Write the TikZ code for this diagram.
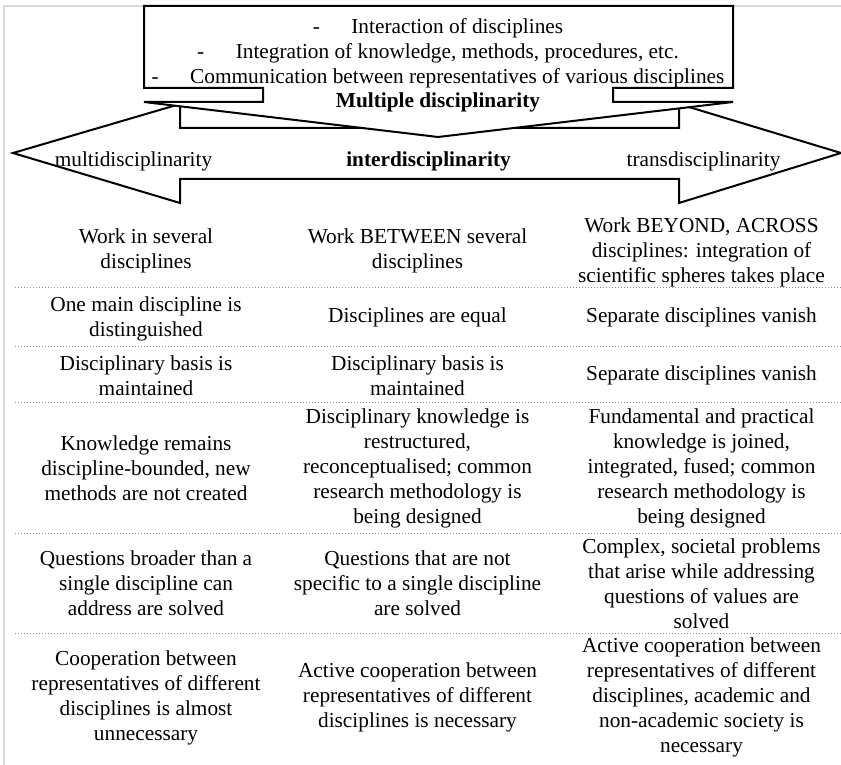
\documentclass[tikz,border=0pt]{standalone}
\usepackage{fontspec}
\setmainfont{Liberation Serif}
\begin{document}
\begin{tikzpicture}[x=1pt,y=-1pt,
  shapeline/.style={draw=black,line width=2pt,fill=white,line join=miter},
  txt/.style={font=\fontsize{21.3}{25}\selectfont,inner sep=0pt,align=center},
  btxt/.style={font=\fontsize{21.3}{25}\selectfont\bfseries,inner sep=0pt},
  sepline/.style={draw=black!45,line width=1pt,dash pattern=on 1pt off 2pt},
  framegray/.style={draw=black!15,line width=2pt}]
\useasboundingbox (0,0) rectangle (841,765);
% light frame
\draw[framegray] (4,765) -- (4,6) -- (841,6);
% left-right arrow
\draw[shapeline] (13,153) -- (180,104) -- (180,128) -- (679,128) -- (679,104)
  -- (841,153) -- (679,203) -- (679,179) -- (180,179) -- (180,203) -- cycle;
% down-arrow callout
\draw[shapeline] (144,6) -- (733,6) -- (733,88) -- (613,88) -- (613,102)
  -- (733,102) -- (438,137) -- (144,102) -- (263,102) -- (263,88) -- (144,88) -- cycle;
% callout text
\node[txt,anchor=base] (t1) at (438,34) {-\hspace{31.5pt}Interaction of disciplines};
\node[txt,anchor=base] (t2) at (438,59) {-\hspace{31.5pt}Integration of knowledge, methods, procedures, etc.};
\node[txt,anchor=base] (t3) at (438,84) {-\hspace{31.5pt}Communication between representatives of various disciplines};
\node[btxt,anchor=base] (md) at (438,108) {Multiple disciplinarity};
% arrow labels
\node[txt,anchor=base] (multi) at (133.5,167) {multidisciplinarity};
\node[btxt,anchor=base] (inter) at (428.5,167) {interdisciplinarity};
\node[txt,anchor=base] (trans) at (703.5,167) {transdisciplinarity};
% separators
\foreach \yy in {287,346,402,533,633} \draw[sepline] (15,\yy) -- (841,\yy);
% row 1
\node[txt] (r1a) at (146,250.5) {Work in several\\disciplines};
\node[txt] (r1b) at (417.5,250.5) {Work BETWEEN several\\disciplines};
\node[txt] (r1c) at (701.5,252) {Work BEYOND, ACROSS\\disciplines: integration of\\scientific spheres takes place};
% row 2
\node[txt] (r2a) at (146,318.5) {One main discipline is\\distinguished};
\node[txt] (r2b) at (417.5,317) {Disciplines are equal};
\node[txt] (r2c) at (701.5,317) {Separate disciplines vanish};
% row 3
\node[txt] (r3a) at (146,375.5) {Disciplinary basis is\\maintained};
\node[txt] (r3b) at (417.5,375.5) {Disciplinary basis is\\maintained};
\node[txt] (r3c) at (701.5,375) {Separate disciplines vanish};
% row 4
\node[txt] (r4a) at (146,468) {Knowledge remains\\discipline-bounded, new\\methods are not created};
\node[txt] (r4b) at (417.5,468) {Disciplinary knowledge is\\restructured,\\reconceptualised; common\\research methodology is\\being designed};
\node[txt] (r4c) at (701.5,468) {Fundamental and practical\\knowledge is joined,\\integrated, fused; common\\research methodology is\\being designed};
% row 5
\node[txt] (r5a) at (146,583) {Questions broader than a\\single discipline can\\address are solved};
\node[txt] (r5b) at (417.5,583) {Questions that are not\\specific to a single discipline\\are solved};
\node[txt] (r5c) at (701.5,583.5) {Complex, societal problems\\that arise while addressing\\questions of values are\\solved};
% row 6
\node[txt] (r6a) at (146,698) {Cooperation between\\representatives of different\\disciplines is almost\\unnecessary};
\node[txt] (r6b) at (417.5,697) {Active cooperation between\\representatives of different\\disciplines is necessary};
\node[txt] (r6c) at (701.5,697) {Active cooperation between\\representatives of different\\disciplines, academic and\\non-academic society is\\necessary};
\end{tikzpicture}
\end{document}
